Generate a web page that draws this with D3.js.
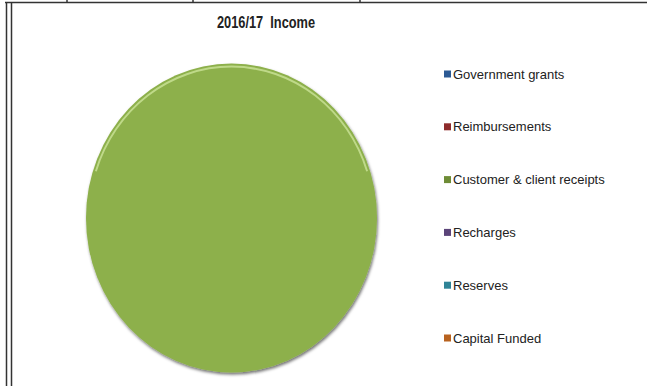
<!DOCTYPE html>
<html>
<head>
<meta charset="utf-8">
<script src="https://cdn.jsdelivr.net/npm/d3@7"></script>
<style>
  body { margin: 0; background: #fff; }
  svg { display: block; font-family: "Liberation Sans", Arial, sans-serif; }
</style>
</head>
<body>
<svg id="chart" width="647" height="386"></svg>
<script>
// Data
const categories = ['Government grants', 'Reimbursements', 'Customer & client receipts', 'Recharges', 'Reserves', 'Capital Funded']
const values = [0, 0, 100, 0, 0, 0]
const colors = ['#2C5A94', '#8E2B2B', '#8DB04B', '#5B4479', '#2F8497', '#D06E1E']
const legendColors = ['#2C5A94', '#8E2B2B', '#6E8C36', '#5B4479', '#2F8497', '#B8621F']
const title = '2016/17  Income'

const svg = d3.select('#chart')

// Frame lines
const frame = svg.append('g').attr('stroke', '#333').attr('fill', 'none')
frame.append('line').attr('x1', 5).attr('x2', 647).attr('y1', 2.5).attr('y2', 2.5).attr('stroke-width', 1.5)
frame.append('line').attr('x1', 6.5).attr('x2', 6.5).attr('y1', 2).attr('y2', 386).attr('stroke-width', 1.5)
frame.append('line').attr('x1', 11.5).attr('x2', 11.5).attr('y1', 2).attr('y2', 386).attr('stroke-width', 1.5)
;[67, 193, 360].forEach(x => {
    frame.append('line').attr('x1', x).attr('x2', x).attr('y1', 0).attr('y2', 3).attr('stroke-width', 1.5)
})

// Title (condensed bold)
svg.append('text')
    .attr('transform', 'translate(266,28) scale(0.8,1)')
    .attr('text-anchor', 'middle')
    .style('white-space', 'pre')
    .style('font-size', '16px').style('font-weight', 'bold').style('fill', '#222')
    .text(title)

// Pie
const cx = 231.5, cy = 218, r = 150
const defs = svg.append('defs')
const shadow = defs.append('filter').attr('id', 'shadow').attr('x', '-10%').attr('y', '-10%').attr('width', '120%').attr('height', '120%')
shadow.append('feDropShadow').attr('dx', 1).attr('dy', 2).attr('stdDeviation', 1.5).attr('flood-color', '#000').attr('flood-opacity', 0.55)

const pie = d3.pie().sort(null).value(d => d)
const arc = d3.arc().innerRadius(0).outerRadius(r)

const pieG = svg.append('g')
    .attr('transform', `translate(${cx},${cy}) scale(0.97,1.03)`)

pieG.selectAll('path.slice')
    .data(pie(values))
    .join('path')
    .attr('class', 'slice')
    .attr('d', arc)
    .attr('fill', (_, i) => colors[i])
    .attr('filter', 'url(#shadow)')

// Bevel highlight along the top edge
const bevel = d3.arc().innerRadius(r - 4).outerRadius(r - 2)
    .startAngle(-Math.PI * 0.4).endAngle(Math.PI * 0.4)
pieG.append('path')
    .attr('d', bevel)
    .attr('fill', '#c4de90')
    .attr('opacity', 0.9)

// Legend
const legend = svg.append('g')
const itemY = d3.scalePoint().domain(categories).range([74, 338])
const items = legend.selectAll('g.item')
    .data(categories)
    .join('g')
    .attr('class', 'item')
    .attr('transform', d => `translate(444,${itemY(d)})`)

items.append('rect')
    .attr('x', 0).attr('y', -3.5)
    .attr('width', 7).attr('height', 7)
    .attr('fill', (_, i) => legendColors[i])

items.append('text')
    .attr('x', 9).attr('y', 4.5)
    .style('font-size', '13px').style('fill', '#222')
    .text(d => d)
</script>
</body>
</html>
